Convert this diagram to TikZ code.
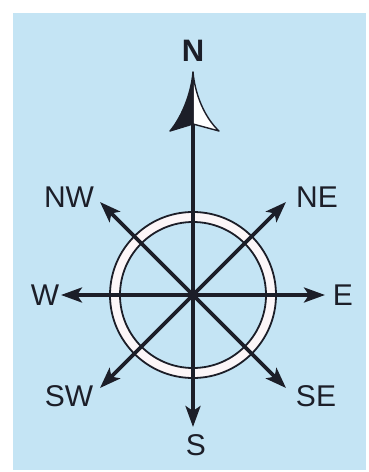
\documentclass[tikz,border=0pt]{standalone}
\usepackage{fontspec}
\setmainfont{Liberation Sans}
\usetikzlibrary{arrows.meta}
\definecolor{bgblue}{RGB}{196,228,244}
\definecolor{ink}{RGB}{28,30,40}
\definecolor{ringfill}{RGB}{252,246,248}
\begin{document}
\begin{tikzpicture}[x=1pt,y=-1pt,
  ray/.style={draw=ink,line width=3.6pt,-{Stealth[length=21pt,width=15pt,inset=5pt]}},
  lbl/.style={text=ink,font=\fontsize{30}{30}\selectfont,inner sep=0pt},
  ringline/.style={draw=ink,line width=1.8pt}]
\useasboundingbox (0,0) rectangle (369,472);
\fill[white] (0,0) rectangle (369,472);
\fill[bgblue] (13,13) rectangle (366,470);
% ring
\coordinate (c) at (193,295);
\fill[ringfill,even odd rule] (c) circle[radius=83] (c) circle[radius=73];
\draw[ringline] (c) circle[radius=83];
\draw[ringline] (c) circle[radius=73];
% tips
\coordinate (tE) at (325,295);
\coordinate (tW) at (61,295);
\coordinate (tS) at (193,427);
\coordinate (tNE) at (286,202);
\coordinate (tNW) at (100,202);
\coordinate (tSE) at (286,388);
\coordinate (tSW) at (100,388);
\coordinate (tN) at (193,72);
\coordinate (bN) at (193,124);
\coordinate (lN) at (170,131);
\coordinate (rN) at (219,131);
% rays
\draw[ray] (c) -- (tE);
\draw[ray] (c) -- (tW);
\draw[ray] (c) -- (tS);
\draw[ray] (c) -- (tNE);
\draw[ray] (c) -- (tNW);
\draw[ray] (c) -- (tSE);
\draw[ray] (c) -- (tSW);
\draw[draw=ink,line width=3.6pt] (c) -- (bN);
% north arrowhead
\filldraw[fill=white,draw=ink,line width=1.4pt,line join=round]
  (tN) .. controls (195,95) and (205,118) .. (rN) -- (bN) -- cycle;
\filldraw[fill=ink,draw=ink,line width=1.4pt,line join=round]
  (tN) .. controls (191,95) and (181,118) .. (lN) -- (bN) -- cycle;
% labels
\node[lbl,font=\fontsize{31}{31}\selectfont\bfseries] (N) at (193,51) {N};
\node[lbl] (E) at (343,295) {E};
\node[lbl] (W) at (45,295) {W};
\node[lbl] (S) at (196,445) {S};
\node[lbl] (NE) at (317,197) {NE};
\node[lbl] (NW) at (69,197) {NW};
\node[lbl] (SE) at (316,396) {SE};
\node[lbl] (SW) at (69,396) {SW};
\end{tikzpicture}
\end{document}
